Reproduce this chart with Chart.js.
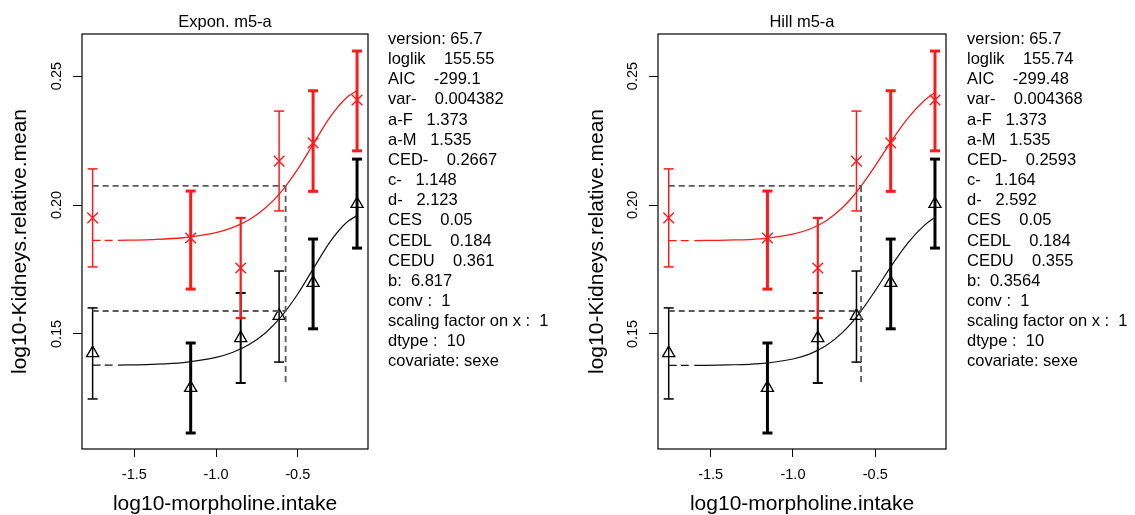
<!DOCTYPE html>
<html>
<head>
<meta charset="utf-8">
<script src="https://cdn.jsdelivr.net/npm/chart.js@4.4.1/dist/chart.umd.min.js"></script>
<style>
  html, body { margin: 0; padding: 0; background: #fff; }
  #wrap { position: relative; width: 1135px; height: 515px; overflow: hidden; }
  canvas { position: absolute; top: 0; }
</style>
</head>
<body>
<div id="wrap">
  <canvas id="expon" width="577" height="515" style="left:0px"></canvas>
  <canvas id="hill" width="558" height="515" style="left:577px"></canvas>
</div>
<script>
// doses (log10) and group means with their intervals
const logDose = [-1.755, -1.155, -0.849, -0.614, -0.406, -0.137];
const maleMean  = [0.1950, 0.1872, 0.1756, 0.2170, 0.2241, 0.2407];
const maleUpper = [0.2140, 0.2054, 0.1950, 0.2364, 0.2443, 0.2597];
const maleLower = [0.1760, 0.1674, 0.1562, 0.1977, 0.2053, 0.2210];
const femaleMean  = [0.1426, 0.1291, 0.1484, 0.1570, 0.1698, 0.2004];
const femaleUpper = [0.1601, 0.1465, 0.1659, 0.1744, 0.1868, 0.2178];
const femaleLower = [0.1248, 0.1116, 0.1310, 0.1391, 0.1520, 0.1833];

// fitted curves
const curveX = [-1.6, -1.4, -1.2, -1.0, -0.9, -0.8, -0.7, -0.6, -0.5, -0.4, -0.3, -0.2, -0.137];
const exponMale   = [0.1863, 0.1866, 0.1873, 0.1893, 0.1912, 0.1942, 0.1987, 0.2052, 0.2139, 0.2242, 0.2343, 0.2417, 0.2443];
const exponFemale = [0.1379, 0.1382, 0.1389, 0.1409, 0.1428, 0.1458, 0.1503, 0.1568, 0.1655, 0.1758, 0.1859, 0.1933, 0.1959];
const hillMale    = [0.1862, 0.1864, 0.1869, 0.1887, 0.1906, 0.1938, 0.1989, 0.2061, 0.2152, 0.2250, 0.2338, 0.2406, 0.2436];
const hillFemale  = [0.1378, 0.1380, 0.1385, 0.1403, 0.1422, 0.1454, 0.1505, 0.1577, 0.1668, 0.1766, 0.1854, 0.1922, 0.1952];
const tailX = [-1.755, -1.625];

// CED / CES lines
const cesMale = 0.2074;
const cesFemale = 0.1589;
const exponCed = -0.574;
const hillCed = -0.586;
const cedBottom = 0.1298;

const xTicks = [-1.5, -1.0, -0.5];
const yTicks = [0.15, 0.20, 0.25];

const exponText = [
  "version: 65.7", "loglik    155.55", "AIC    -299.1", "var-    0.004382",
  "a-F   1.373", "a-M   1.535", "CED-    0.2667", "c-   1.148", "d-   2.123",
  "CES    0.05", "CEDL    0.184", "CEDU    0.361", "b:  6.817", "conv :  1",
  "scaling factor on x :  1", "dtype :  10", "covariate: sexe"
];
const hillText = [
  "version: 65.7", "loglik    155.74", "AIC    -299.48", "var-    0.004368",
  "a-F   1.373", "a-M   1.535", "CED-    0.2593", "c-   1.164", "d-   2.592",
  "CES    0.05", "CEDL    0.184", "CEDU    0.355", "b:  0.3564", "conv :  1",
  "scaling factor on x :  1", "dtype :  10", "covariate: sexe"
];

// line widths of the intervals (style only)
const maleBarWidth   = [1.5, 3, 2.2, 1.5, 3, 3];
const femaleBarWidth = [1.5, 3, 2, 1.5, 3, 3];

const RED = '#ff1a1a';
const FONT = '"Liberation Sans", Arial, Helvetica, sans-serif';
Chart.defaults.font.family = FONT;
Chart.defaults.color = '#000';

function errorBars(lo, hi, color, widths) {
  return logDose.map((x, i) => ({
    type: 'line',
    data: [{x: x, y: lo[i]}, {x: x, y: hi[i]}],
    borderColor: color,
    borderWidth: widths[i],
    pointStyle: 'line',
    pointRadius: 5,
    pointBorderWidth: widths[i],
    pointBorderColor: color,
    tension: 0
  }));
}

function pairs(xs, ys) {
  return xs.map((x, i) => ({x: x, y: ys[i]}));
}

function dashed(data, color) {
  return {
    type: 'line', data: data, borderColor: color, borderWidth: 1.8,
    borderDash: [6, 4], pointRadius: 0, tension: 0
  };
}

const decor = {
  id: 'decor',
  afterDraw(chart, args, o) {
    const ctx = chart.ctx;
    const a = chart.chartArea;
    ctx.save();
    ctx.strokeStyle = '#000';
    ctx.lineWidth = 1.2;
    ctx.strokeRect(a.left, a.top, a.right - a.left, a.bottom - a.top);
    ctx.fillStyle = '#000';
    ctx.textBaseline = 'alphabetic';
    ctx.font = '16.5px ' + FONT;
    ctx.textAlign = 'center';
    ctx.fillText(o.title, (a.left + a.right) / 2, 26.5);
    ctx.textAlign = 'left';
    o.lines.forEach((t, i) => ctx.fillText(t, o.textX, 44 + i * 20.15));
    ctx.restore();
  }
};

function makePanel(id, p) {
  const datasets = [
    dashed([{x: logDose[0], y: cesMale}, {x: p.ced, y: cesMale}], '#5a5a5a'),
    dashed([{x: logDose[0], y: cesFemale}, {x: p.ced, y: cesFemale}], '#5a5a5a'),
    dashed([{x: p.ced, y: cesMale}, {x: p.ced, y: cedBottom}], '#5a5a5a'),
    {type: 'line', data: pairs(curveX, p.male), borderColor: RED, borderWidth: 1.3,
     pointRadius: 0, cubicInterpolationMode: 'monotone'},
    {type: 'line', data: pairs(curveX, p.female), borderColor: '#111', borderWidth: 1.2,
     pointRadius: 0, cubicInterpolationMode: 'monotone'},
    {type: 'line', data: pairs(tailX, [p.male[0], p.male[0]]), borderColor: RED, borderWidth: 1.3,
     borderDash: [8, 4], pointRadius: 0},
    {type: 'line', data: pairs(tailX, [p.female[0], p.female[0]]), borderColor: '#111', borderWidth: 1.2,
     borderDash: [8, 4], pointRadius: 0},
    ...errorBars(maleLower, maleUpper, RED, maleBarWidth),
    ...errorBars(femaleLower, femaleUpper, '#000', femaleBarWidth),
    {type: 'scatter', data: pairs(logDose, maleMean), pointStyle: 'crossRot', pointRadius: 7.5,
     borderColor: RED, pointBorderColor: RED, borderWidth: 1.4, showLine: false},
    {type: 'scatter', data: pairs(logDose, femaleMean), pointStyle: 'triangle', pointRadius: 7,
     borderColor: '#000', pointBorderColor: '#000', backgroundColor: 'rgba(0,0,0,0)',
     pointBackgroundColor: 'rgba(0,0,0,0)', borderWidth: 1.3, showLine: false}
  ];
  return new Chart(document.getElementById(id), {
    type: 'line',
    data: {datasets: datasets},
    plugins: [decor],
    options: {
      responsive: false,
      animation: false,
      devicePixelRatio: 1,
      events: [],
      layout: {padding: {left: 0, top: 34, right: p.padRight, bottom: 0}},
      plugins: {
        legend: {display: false},
        tooltip: {enabled: false},
        decor: {title: p.title, lines: p.lines, textX: p.textX}
      },
      scales: {
        x: {
          type: 'linear', min: -1.82, max: -0.07,
          afterBuildTicks: s => { s.ticks = xTicks.map(v => ({value: v})); },
          afterFit: s => { s.height = 66; },
          border: {display: false},
          grid: {drawOnChartArea: false, drawTicks: true, tickLength: 8, color: '#000', lineWidth: 1},
          ticks: {padding: 9, autoSkip: false, maxRotation: 0, font: {size: 14.5},
                  callback: v => v.toFixed(1)},
          title: {display: true, text: 'log10-morpholine.intake', font: {size: 21, lineHeight: 1},
                  padding: {top: 0, bottom: 0}}
        },
        y: {
          type: 'linear', min: 0.1054, max: 0.2663,
          afterBuildTicks: s => { s.ticks = yTicks.map(v => ({value: v})); },
          afterFit: s => { s.width = p.yWidth; },
          border: {display: false},
          grid: {drawOnChartArea: false, drawTicks: true, tickLength: 9, color: '#000', lineWidth: 1},
          ticks: {padding: 2, autoSkip: false, minRotation: 90, maxRotation: 90, crossAlign: 'center',
                  font: {size: 14.5}, callback: v => v.toFixed(2)},
          title: {display: true, text: 'log10-Kidneys.relative.mean', font: {size: 21, lineHeight: 1},
                  padding: {top: 9.5, bottom: 0}}
        }
      }
    }
  });
}

makePanel('expon', {title: 'Expon. m5-a', lines: exponText, textX: 388, ced: exponCed,
  male: exponMale, female: exponFemale, padRight: 209, yWidth: 82});
makePanel('hill', {title: 'Hill m5-a', lines: hillText, textX: 390, ced: hillCed,
  male: hillMale, female: hillFemale, padRight: 189, yWidth: 81});
</script>
</body>
</html>
